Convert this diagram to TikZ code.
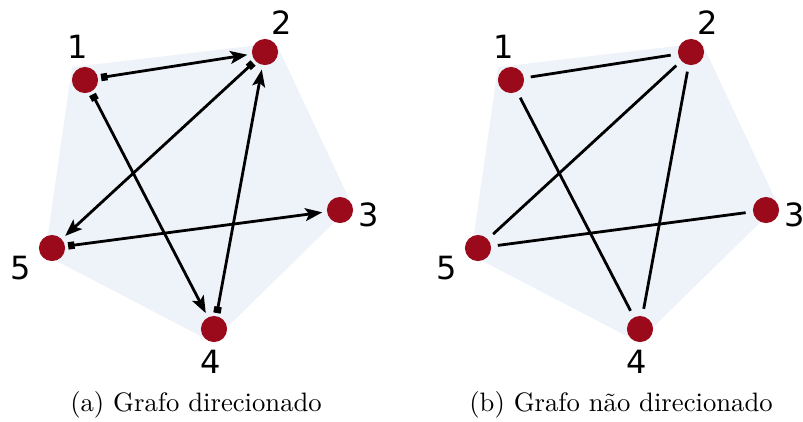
\documentclass[tikz,border=0pt]{standalone}
\usepackage{fontspec}
\newfontfamily\numfont{DejaVu Sans}
\usetikzlibrary{arrows.meta}
\definecolor{vtxred}{HTML}{9B0A1A}
\definecolor{hullblue}{HTML}{EEF3FA}

\begin{document}
\begin{tikzpicture}[x=0.375pt,y=-0.375pt,
  vtx/.style={circle,fill=vtxred,minimum size=9.8pt,inner sep=0pt},
  num/.style={font=\numfont\fontsize{12}{14}\selectfont,inner sep=0pt},
  hull/.style={fill=hullblue},
  dedge/.style={line width=1.05pt,{Square[length=2.4pt,width=2.8pt]}-{Stealth[length=6.4pt,width=4.8pt,inset=1.4pt]},shorten <=1pt,shorten >=1.6pt},
  uedge/.style={line width=1.05pt,shorten <=2.4pt,shorten >=2.6pt},
  captxt/.style={inner sep=0pt}]
  \useasboundingbox (0,0) rectangle (803,421);
  % (a) directed graph
  \fill[hull] (72,67) -- (276,43) -- (352,205) -- (212,342) -- (45,255) -- cycle;
  \node[vtx] (a1) at (85,80) {};
  \node[vtx] (a2) at (265,52) {};
  \node[vtx] (a3) at (340,210) {};
  \node[vtx] (a4) at (214,329) {};
  \node[vtx] (a5) at (52,248) {};
  \node[num] (la1) at (78,47) {1};
  \node[num] (la2) at (282,23) {2};
  \node[num] (la3) at (369,215) {3};
  \node[num] (la4) at (211,362) {4};
  \node[num] (la5) at (21,268) {5};
  \draw[dedge] (a1) -- (a2);
  \draw[dedge] (a1) -- (a4);
  \draw[dedge] (a2) -- (a5);
  \draw[dedge] (a4) -- (a2);
  \draw[dedge] (a5) -- (a3);
  \node[captxt] (capa) at (196,405) {(a) Grafo direcionado};
  % (b) undirected graph
  \begin{scope}[xshift=426*0.375pt]
    \fill[hull] (72,67) -- (276,43) -- (352,205) -- (212,342) -- (45,255) -- cycle;
    \node[vtx] (b1) at (85,80) {};
    \node[vtx] (b2) at (265,52) {};
    \node[vtx] (b3) at (340,210) {};
    \node[vtx] (b4) at (214,329) {};
    \node[vtx] (b5) at (52,248) {};
    \node[num] (lb1) at (78,47) {1};
    \node[num] (lb2) at (282,23) {2};
    \node[num] (lb3) at (369,215) {3};
    \node[num] (lb4) at (211,362) {4};
    \node[num] (lb5) at (21,268) {5};
    \draw[uedge] (b1) -- (b2);
    \draw[uedge] (b1) -- (b4);
    \draw[uedge] (b2) -- (b5);
    \draw[uedge] (b2) -- (b4);
    \draw[uedge] (b5) -- (b3);
  \end{scope}
  \node[captxt] (capb) at (621,405) {(b) Grafo não direcionado};
\end{tikzpicture}
\end{document}
